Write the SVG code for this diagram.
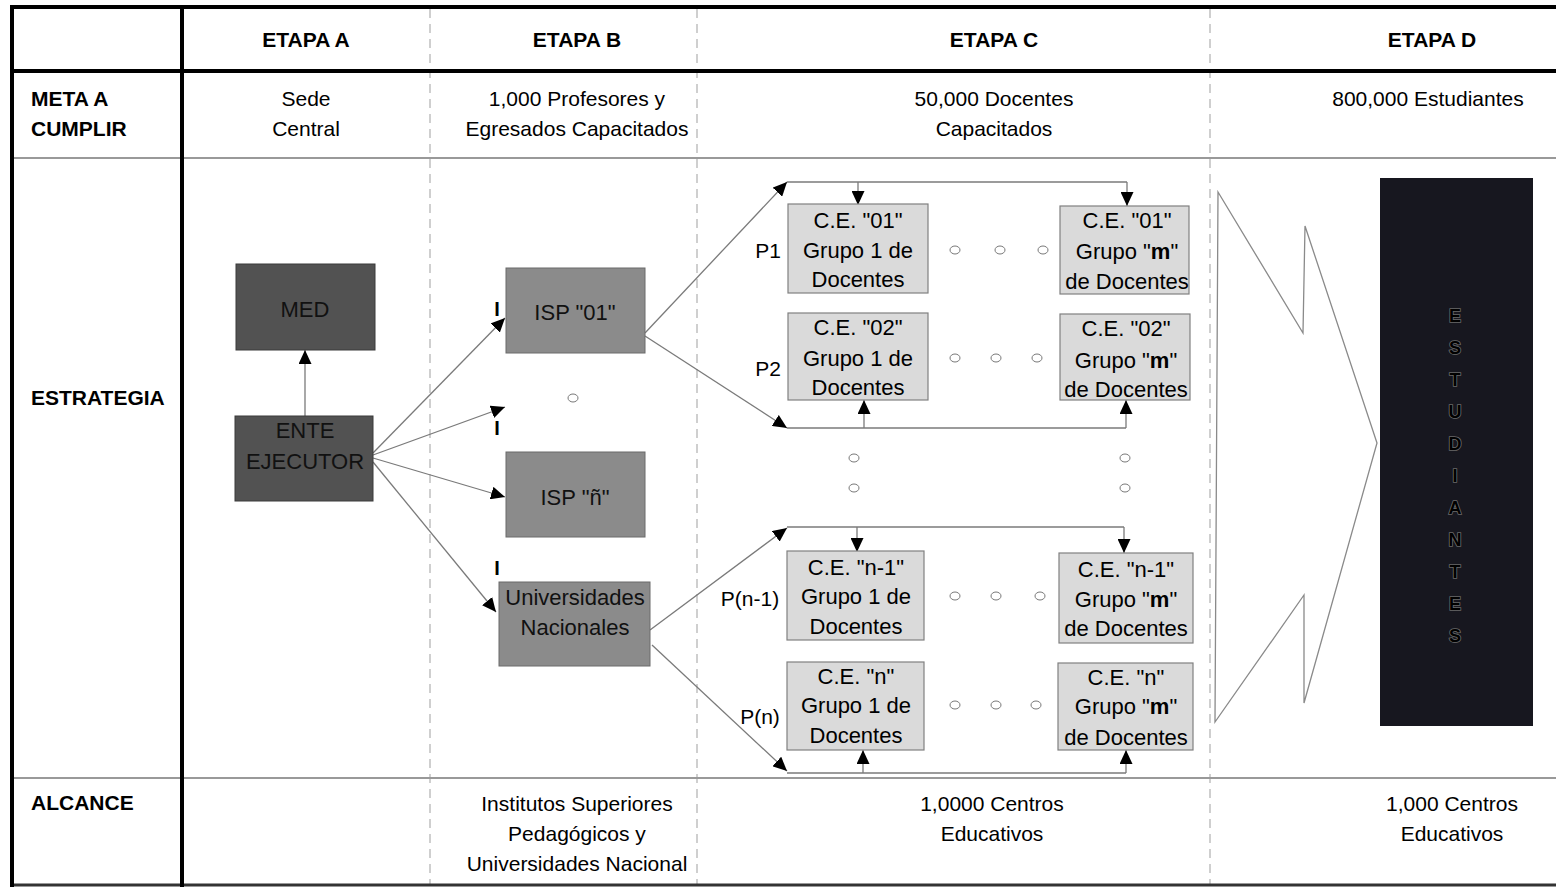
<svg xmlns="http://www.w3.org/2000/svg" width="1556" height="888" viewBox="0 0 1556 888">
<style>
text{font-family:"Liberation Sans",Arial,sans-serif;fill:#000}
.h{font-size:21px;font-weight:bold}
.t{font-size:21px;text-anchor:middle}
.b{font-size:22px;text-anchor:middle}
.d{font-size:22px;text-anchor:middle;fill:#111}
.thick{stroke:#000;stroke-width:4}
.thin{stroke:#999;stroke-width:2}
.dash{stroke:#b0b0b0;stroke-width:1.2;stroke-dasharray:9 6}
.dark{fill:#525252;stroke:#3a3a3a;stroke-width:1}
.mid{fill:#8b8b8b;stroke:#6a6a6a;stroke-width:1}
.ce{fill:#dadada;stroke:#808080;stroke-width:1.2}
.c{stroke:#7a7a7a;stroke-width:1.3;fill:none}
.a{stroke:#7a7a7a;stroke-width:1.3;fill:none;marker-end:url(#ah)}
.o{fill:none;stroke:#777;stroke-width:1}
.p{font-size:21px;text-anchor:middle}
.i{font-size:20px;font-weight:bold;text-anchor:middle}
.st{font-size:18px;font-weight:bold;text-anchor:middle;fill:#000;stroke:#6a6a6a;stroke-width:1.6;paint-order:stroke}
</style>
<defs>
<marker id="ah" markerUnits="userSpaceOnUse" markerWidth="15" markerHeight="13" refX="14" refY="6.5" orient="auto">
<path d="M0,0 L14,6.5 L0,13 z" fill="#000"/>
</marker>
</defs>
<rect width="1556" height="888" fill="#fff"/>

<g id="table">
<line class="dash" x1="430" y1="9" x2="430" y2="884"/>
<line class="dash" x1="697" y1="9" x2="697" y2="884"/>
<line class="dash" x1="1210" y1="9" x2="1210" y2="884"/>
<line class="thin" x1="12" y1="158" x2="1556" y2="158"/>
<line class="thin" x1="12" y1="778" x2="1556" y2="778"/>
<line x1="12" y1="885" x2="1556" y2="885" stroke="#333" stroke-width="3"/>
<line class="thick" x1="10" y1="7" x2="1556" y2="7"/>
<line class="thick" x1="10" y1="71" x2="1556" y2="71"/>
<line class="thick" x1="12" y1="5" x2="12" y2="887"/>
<line class="thick" x1="182" y1="5" x2="182" y2="887"/>
<text class="h" x="306" y="47" text-anchor="middle">ETAPA A</text>
<text class="h" x="577" y="47" text-anchor="middle">ETAPA B</text>
<text class="h" x="994" y="47" text-anchor="middle">ETAPA C</text>
<text class="h" x="1432" y="47" text-anchor="middle">ETAPA D</text>
<text class="h" x="31" y="106">META A</text>
<text class="h" x="31" y="136">CUMPLIR</text>
<text class="h" x="31" y="405">ESTRATEGIA</text>
<text class="h" x="31" y="810">ALCANCE</text>
<text class="t" x="306" y="106">Sede</text>
<text class="t" x="306" y="136">Central</text>
<text class="t" x="577" y="106">1,000 Profesores y</text>
<text class="t" x="577" y="136">Egresados Capacitados</text>
<text class="t" x="994" y="106">50,000 Docentes</text>
<text class="t" x="994" y="136">Capacitados</text>
<text class="t" x="1428" y="106">800,000 Estudiantes</text>
<text class="t" x="577" y="811">Institutos Superiores</text>
<text class="t" x="577" y="841">Pedagógicos y</text>
<text class="t" x="577" y="871">Universidades Nacional</text>
<text class="t" x="992" y="811">1,0000 Centros</text>
<text class="t" x="992" y="841">Educativos</text>
<text class="t" x="1452" y="811">1,000 Centros</text>
<text class="t" x="1452" y="841">Educativos</text>
</g>

<g id="connectors">
<line class="a" x1="305" y1="416" x2="305" y2="350"/>
<line class="a" x1="373" y1="453" x2="505" y2="318"/>
<line class="a" x1="373" y1="455" x2="505" y2="407"/>
<line class="a" x1="373" y1="458" x2="505" y2="497"/>
<line class="a" x1="373" y1="462" x2="496" y2="612"/>
<line class="a" x1="645" y1="333" x2="787" y2="182"/>
<line class="a" x1="645" y1="336" x2="787" y2="428"/>
<line class="a" x1="650" y1="630" x2="787" y2="528"/>
<line class="a" x1="652" y1="645" x2="787" y2="771"/>
<line class="c" x1="787" y1="182" x2="1127" y2="182"/>
<line class="a" x1="858" y1="182" x2="858" y2="205"/>
<line class="a" x1="1127" y1="182" x2="1127" y2="206"/>
<line class="c" x1="787" y1="428" x2="1126" y2="428"/>
<line class="a" x1="864" y1="428" x2="864" y2="400"/>
<line class="a" x1="1126" y1="428" x2="1126" y2="400"/>
<line class="c" x1="787" y1="527" x2="1124" y2="527"/>
<line class="a" x1="857" y1="527" x2="857" y2="552"/>
<line class="a" x1="1124" y1="527" x2="1124" y2="553"/>
<line class="c" x1="787" y1="773" x2="1126" y2="773"/>
<line class="a" x1="863" y1="773" x2="863" y2="750"/>
<line class="a" x1="1126" y1="773" x2="1126" y2="750"/>
</g>

<g id="marks">
<text class="i" x="497" y="316">I</text>
<text class="i" x="497" y="435">I</text>
<text class="i" x="497" y="575">I</text>
<ellipse class="o" cx="573" cy="398" rx="5" ry="4"/>
<ellipse class="o" cx="955" cy="250" rx="5" ry="4"/>
<ellipse class="o" cx="1000" cy="250" rx="5" ry="4"/>
<ellipse class="o" cx="1043" cy="250" rx="5" ry="4"/>
<ellipse class="o" cx="955" cy="358" rx="5" ry="4"/>
<ellipse class="o" cx="996" cy="358" rx="5" ry="4"/>
<ellipse class="o" cx="1037" cy="358" rx="5" ry="4"/>
<ellipse class="o" cx="854" cy="458" rx="5" ry="4"/>
<ellipse class="o" cx="854" cy="488" rx="5" ry="4"/>
<ellipse class="o" cx="1125" cy="458" rx="5" ry="4"/>
<ellipse class="o" cx="1125" cy="488" rx="5" ry="4"/>
<ellipse class="o" cx="955" cy="596" rx="5" ry="4"/>
<ellipse class="o" cx="996" cy="596" rx="5" ry="4"/>
<ellipse class="o" cx="1040" cy="596" rx="5" ry="4"/>
<ellipse class="o" cx="955" cy="705" rx="5" ry="4"/>
<ellipse class="o" cx="996" cy="705" rx="5" ry="4"/>
<ellipse class="o" cx="1036" cy="705" rx="5" ry="4"/>
<text class="p" x="768" y="258">P1</text>
<text class="p" x="768" y="376">P2</text>
<text class="p" x="750" y="606">P(n-1)</text>
<text class="p" x="760" y="724">P(n)</text>
</g>

<g id="med">
<rect class="dark" x="236" y="264" width="139" height="86"/>
<text class="d" x="305" y="317">MED</text>
</g>
<g id="ente">
<rect class="dark" x="235" y="416" width="138" height="85"/>
<text class="d" x="305" y="438">ENTE</text>
<text class="d" x="305" y="469">EJECUTOR</text>
</g>
<g id="isp01">
<rect class="mid" x="506" y="268" width="139" height="85"/>
<text class="d" x="575" y="320">ISP "01"</text>
</g>
<g id="ispn">
<rect class="mid" x="506" y="452" width="139" height="85"/>
<text class="d" x="575" y="505">ISP "ñ"</text>
</g>
<g id="univ">
<rect class="mid" x="499" y="582" width="151" height="84" fill="#828282"/>
<text class="d" x="575" y="605">Universidades</text>
<text class="d" x="575" y="635">Nacionales</text>
</g>

<g id="ce01-1">
<rect class="ce" x="788" y="204" width="140" height="89"/>
<text class="b" x="858" y="228">C.E. "01"</text>
<text class="b" x="858" y="258">Grupo 1 de</text>
<text class="b" x="858" y="287">Docentes</text>
</g>
<g id="ce01-m">
<rect class="ce" x="1060" y="206" width="129" height="88"/>
<text class="b" x="1127" y="228">C.E. "01"</text>
<text class="b" x="1127" y="259">Grupo "<tspan font-weight="bold">m</tspan>"</text>
<text class="b" x="1127" y="289">de Docentes</text>
</g>
<g id="ce02-1">
<rect class="ce" x="788" y="313" width="140" height="87"/>
<text class="b" x="858" y="335">C.E. "02"</text>
<text class="b" x="858" y="366">Grupo 1 de</text>
<text class="b" x="858" y="395">Docentes</text>
</g>
<g id="ce02-m">
<rect class="ce" x="1060" y="314" width="130" height="86"/>
<text class="b" x="1126" y="336">C.E. "02"</text>
<text class="b" x="1126" y="368">Grupo "<tspan font-weight="bold">m</tspan>"</text>
<text class="b" x="1126" y="397">de Docentes</text>
</g>
<g id="cen1-1">
<rect class="ce" x="787" y="551" width="137" height="89"/>
<text class="b" x="856" y="575">C.E. "n-1"</text>
<text class="b" x="856" y="604">Grupo 1 de</text>
<text class="b" x="856" y="634">Docentes</text>
</g>
<g id="cen1-m">
<rect class="ce" x="1059" y="553" width="134" height="90"/>
<text class="b" x="1126" y="577">C.E. "n-1"</text>
<text class="b" x="1126" y="607">Grupo "<tspan font-weight="bold">m</tspan>"</text>
<text class="b" x="1126" y="636">de Docentes</text>
</g>
<g id="cen-1">
<rect class="ce" x="787" y="662" width="137" height="88"/>
<text class="b" x="856" y="684">C.E. "n"</text>
<text class="b" x="856" y="713">Grupo 1 de</text>
<text class="b" x="856" y="743">Docentes</text>
</g>
<g id="cen-m">
<rect class="ce" x="1058" y="663" width="135" height="87"/>
<text class="b" x="1126" y="685">C.E. "n"</text>
<text class="b" x="1126" y="714">Grupo "<tspan font-weight="bold">m</tspan>"</text>
<text class="b" x="1126" y="745">de Docentes</text>
</g>

<g id="big-arrow">
<polygon points="1218,192 1303,333 1305,226 1377,443 1304,703 1304,595 1215,722" fill="none" stroke="#8a8a8a" stroke-width="1.3"/>
</g>

<g id="estudiantes">
<rect x="1380" y="178" width="153" height="548" fill="#17171f"/>
<text class="st" x="1455" y="322">E</text>
<text class="st" x="1455" y="354">S</text>
<text class="st" x="1455" y="386">T</text>
<text class="st" x="1455" y="418">U</text>
<text class="st" x="1455" y="450">D</text>
<text class="st" x="1455" y="482">I</text>
<text class="st" x="1455" y="514">A</text>
<text class="st" x="1455" y="546">N</text>
<text class="st" x="1455" y="578">T</text>
<text class="st" x="1455" y="610">E</text>
<text class="st" x="1455" y="642">S</text>
</g>
</svg>
